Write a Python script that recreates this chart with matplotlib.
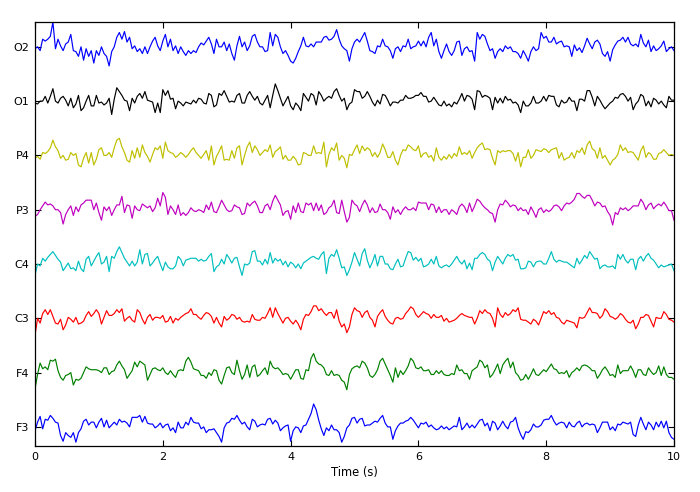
import numpy as np
import matplotlib
matplotlib.use("Agg")
import matplotlib.pyplot as plt

# Channel names, bottom to top, and trace colours
channels = ["F3", "F4", "C3", "C4", "P3", "P4", "O1", "O2"]
colors = ["b", "g", "r", "c", "m", "y", "k", "b"]

duration = 10.0      # seconds
n_samples = 251      # samples per channel (0.04 s apart)

F3 = [-4,5,11,-2,8,7,12,9,5,4,-9,-15,-6,-9,-11,-6,-16,-6,-2,6,8,2,5,5,-1,5,9,0,7,-1,2,5,2,8,5,6,4,0,10,10,10,12,5,11,4,3,3,-1,1,4,-1,2,3,-4,-1,-6,5,-1,-1,5,2,10,5,
      4,4,-2,0,-6,-3,-3,-2,-6,-10,-16,-1,4,5,9,8,12,7,3,5,0,-3,8,6,0,2,3,2,8,9,3,7,4,-4,-1,1,2,-15,-4,0,-1,-6,1,2,8,14,24,18,7,-2,-9,-1,-4,2,-3,-3,-6,-16,-10,-1,2,9,10,
      4,8,9,1,2,2,4,6,5,9,12,4,0,0,-13,-4,1,4,4,6,7,10,7,3,-1,4,3,5,0,2,-1,-3,-2,1,-2,0,-3,-1,1,0,10,-3,0,4,-1,2,-1,3,7,8,1,4,-4,6,4,-3,1,6,1,-2,5,6,
      10,-1,-8,-13,-5,-6,-3,3,0,0,2,7,8,8,12,6,2,4,5,4,-1,5,1,0,4,6,0,3,4,2,3,2,-6,-1,5,5,5,-3,0,-4,3,2,5,4,3,5,-8,-10,2,10,3,-3,5,2,-3,5,0,6,-1,6,-6,-11,-13]
F4 = [-17,-2,10,4,6,3,13,12,14,2,-5,-8,-3,-2,0,-13,-7,-8,-6,0,6,4,3,3,3,2,0,5,5,-2,1,2,8,12,7,3,-6,-2,2,11,6,12,10,8,-8,-2,4,5,3,2,5,0,-2,2,-2,-5,2,3,2,12,16,11,4,
      3,2,-3,-3,-6,0,-3,3,2,-8,-12,-3,5,6,0,-2,13,2,-7,-2,8,-5,6,8,-4,-2,2,5,-2,12,6,4,5,2,-2,-1,-2,-7,-2,3,3,-6,-7,3,2,15,20,12,9,8,5,-2,-3,2,-3,-2,-3,-8,-10,-18,-2,4,6,
      7,5,12,10,5,-3,-5,-2,3,12,15,9,3,-3,-10,5,-5,2,-2,2,7,15,12,5,4,6,2,2,3,-2,-2,2,-1,2,-2,-3,-3,-1,-2,8,2,3,-1,-1,-7,2,4,6,13,11,5,8,-5,-2,3,9,-1,8,12,15,5,11,
      0,-3,-8,-7,-2,-7,-2,4,-2,-3,0,3,1,5,9,4,3,-1,0,-1,2,-5,0,2,5,2,7,8,7,5,2,2,-6,-2,3,6,2,-3,-2,-5,8,-1,2,2,2,7,2,-5,3,3,-2,-3,5,1,-2,0,7,-3,6,-2,-5,-5,-7]
C3 = [-18,0,-5,5,9,4,9,2,-5,-6,-1,-12,-7,1,-1,-4,1,-6,-5,-3,3,7,2,5,9,5,-6,1,8,3,3,5,9,6,10,-3,0,2,-2,-4,9,6,-1,-6,1,4,-2,1,1,0,3,-4,-3,2,-5,0,-2,1,3,5,6,10,4,
      4,1,-1,3,6,5,2,-5,1,-5,-9,2,-2,0,4,3,-1,1,-3,-4,-3,-4,4,-1,-2,-2,1,0,5,11,1,11,5,0,-5,0,1,-3,-6,-2,-6,-12,-1,4,3,7,13,13,8,10,6,3,6,6,0,9,-3,-9,-6,-15,-9,4,11,
      8,7,1,6,8,1,-2,-9,2,6,9,2,-2,-5,-6,0,1,-1,0,5,8,12,10,4,1,4,7,5,4,0,4,1,1,3,-3,0,-4,-3,-2,0,3,5,3,2,1,1,-6,0,8,5,9,6,5,0,-9,11,4,1,6,3,5,9,
      7,11,-1,-2,-2,-4,-6,-1,-3,-7,0,7,5,8,4,6,1,0,-4,-6,-2,-3,-4,-5,-10,1,0,1,6,11,6,6,5,0,3,10,7,2,1,-1,1,5,3,-1,-4,-5,-2,-11,-6,1,1,4,3,-3,-9,1,0,0,7,4,-1,-2,-4]
C4 = [-12,0,-2,6,3,7,10,13,9,5,2,-7,-3,1,-5,-4,-7,3,-5,-8,5,8,-2,3,8,12,0,2,8,-8,8,6,13,18,12,6,2,-2,3,-2,2,15,0,10,11,-2,1,5,8,0,-7,2,-3,-5,-5,-2,8,5,-2,4,5,6,6,
      6,3,5,3,4,8,11,-8,-3,-1,5,0,10,6,1,6,7,-3,-12,0,-1,1,13,14,3,3,-1,5,0,12,1,6,3,5,-1,3,-3,2,0,-4,0,-5,1,3,5,7,8,6,5,10,13,-10,6,10,8,15,6,-4,-3,-12,-6,2,12,
      5,-2,11,16,4,-4,2,10,-2,8,8,0,0,-5,-6,0,5,-3,-2,6,13,12,4,7,3,6,-3,-2,0,5,0,8,-2,-4,-2,-1,-3,0,4,8,3,0,4,-5,1,-6,6,6,10,12,10,5,3,-7,2,8,4,0,6,10,8,10,
      4,5,-5,-5,-4,3,2,-3,2,3,3,0,0,6,13,5,2,4,3,2,2,0,-2,-4,6,0,4,9,6,13,9,5,6,-5,-2,-1,-3,-3,-2,-5,10,5,10,4,1,5,5,-6,5,8,3,8,11,6,4,0,-4,-1,-3,-2,-1,0,-7]
P3 = [-7,-5,0,4,8,5,6,4,0,0,-3,-15,-5,0,4,-6,3,-2,5,7,10,10,10,0,7,-3,-11,3,-1,3,-6,0,5,5,14,-3,5,4,-9,4,0,-1,6,4,2,4,-2,2,12,4,18,13,-5,4,0,-5,5,-6,-3,-6,-3,2,-1,
      -2,0,-1,-3,5,0,8,-2,-3,3,10,5,0,-2,-1,5,3,2,-5,-4,7,4,7,9,4,-3,-3,4,6,0,9,15,10,5,-6,-2,-1,-10,4,-3,7,-2,-3,7,5,7,-1,7,-1,5,-5,-3,2,4,10,-3,-4,10,-2,-13,-8,10,6,
      4,-2,5,10,5,-3,2,-3,-2,6,0,0,-3,-10,3,-3,0,-5,0,3,0,0,2,-1,8,7,7,7,0,6,5,-3,3,-3,0,0,-5,0,-2,-5,3,6,3,-3,7,-2,4,11,9,5,2,0,-3,-4,-13,0,6,5,10,7,3,5,
      4,-1,2,-1,0,-5,3,-2,-8,0,2,-3,0,-2,0,4,5,3,-1,4,7,6,8,11,17,17,14,12,15,15,10,4,8,7,3,4,-2,-6,-16,-3,-5,2,0,2,-1,1,4,4,4,11,7,0,5,7,1,4,6,4,8,4,-1,-1,-11]
P4 = [-3,-1,-4,3,2,4,8,16,9,5,-3,0,-5,-4,3,0,2,-10,-12,-3,3,-8,3,-10,-4,6,8,0,0,3,-2,8,16,18,9,3,-5,-7,5,-3,8,-2,11,3,-1,-7,1,8,6,10,-3,14,5,3,2,-2,0,3,1,-2,1,5,8,
      3,0,-3,1,5,-5,10,-10,-1,4,10,-5,-4,-5,5,-3,8,10,-10,0,9,14,3,10,6,0,3,6,4,11,-2,4,6,9,-4,0,-5,-5,-1,-4,-10,-9,3,2,0,0,10,2,3,2,14,-12,1,8,5,13,-5,0,-3,-13,1,0,6,
      11,2,10,5,8,6,-1,3,-2,3,12,6,-2,-2,4,-5,-10,0,6,5,11,9,6,5,10,-2,2,3,-2,0,-6,8,-2,-5,-1,-4,1,-3,2,-1,9,1,3,1,5,-3,3,8,11,13,6,7,6,-3,-10,5,3,5,4,5,5,2,
      -6,3,-12,-2,-2,6,-3,0,6,5,4,7,6,3,6,7,8,-3,3,-5,-3,-2,3,-3,5,3,8,1,11,15,7,5,-3,8,-3,0,-5,-10,-5,-3,1,11,5,8,3,4,3,-1,-5,5,10,-2,3,1,-4,-4,2,3,6,3,0,1,0]
O1 = [-2,-3,0,0,5,-2,5,13,0,-2,3,5,1,-5,3,-7,-3,6,-10,-7,0,6,-5,-5,6,-2,-1,-4,-2,3,-14,2,14,10,6,1,0,-10,3,-2,5,8,3,10,1,0,-1,-12,-2,-12,12,6,11,2,3,-8,0,-2,-5,-1,-2,-3,1,
      -2,3,2,-2,-3,8,6,-6,-4,8,6,11,5,-1,0,-1,6,8,-2,-2,6,10,5,1,5,-2,-4,1,6,-7,6,18,11,3,-5,0,5,-5,-9,-2,-5,-10,8,4,0,8,6,-4,10,6,0,3,5,3,10,13,6,0,3,-9,-3,-1,12,
      10,10,3,5,10,5,-1,-5,1,-3,7,6,1,-5,-1,-1,-2,1,1,6,3,3,4,6,6,9,5,5,-1,0,4,0,-4,-5,0,-5,-3,-6,-1,-3,2,8,0,6,5,2,-9,11,10,4,6,5,3,-9,4,-2,3,-2,5,1,2,-2,
      -1,-4,-12,0,-5,-5,-2,5,-2,-2,0,5,0,6,5,5,-4,-6,1,-2,-1,4,0,0,-10,2,2,0,11,11,4,-5,5,1,-4,-8,-5,-2,0,4,3,7,8,5,0,4,-9,-3,0,7,5,-5,0,-6,3,1,-3,0,-4,-7,5,1,1]
O2 = [-2,0,-4,8,6,8,11,26,-2,8,1,-4,3,5,13,-4,-5,-10,0,-14,-2,-10,-4,-17,-4,-9,0,-7,-10,-20,-5,0,10,15,8,16,5,10,-2,1,-5,-2,-7,0,-7,0,6,10,1,-4,6,13,0,8,-4,1,-7,0,-5,-9,-4,-7,-4,
      -6,0,4,2,6,10,3,-7,8,0,0,5,-4,3,-7,-14,1,11,0,5,-4,1,11,13,5,0,0,-5,-4,15,1,13,10,0,-7,-4,-9,-15,-17,-12,-5,1,10,1,0,3,0,5,5,5,10,11,7,8,11,18,8,1,-2,-4,-15,-2,5,
      8,5,10,15,6,-4,-5,-7,1,0,8,1,0,-4,-12,-2,0,-5,1,0,8,-2,0,1,6,1,6,0,10,15,1,8,-5,-12,-4,3,-5,-9,-4,5,6,-9,-2,0,-5,-4,-15,15,8,13,11,3,-4,-2,-12,-5,-2,-5,1,-2,0,-5,
      -5,-7,-12,-4,-9,-15,-5,0,-4,-2,15,9,11,5,5,10,3,5,6,0,1,0,-10,2,-4,-1,-6,1,9,3,-2,5,7,3,-7,-10,-5,-15,-3,2,6,7,10,5,10,3,1,3,0,13,4,0,7,-5,1,-4,-2,1,6,-5,-2,0,-4]

series = [F3, F4, C3, C4, P3, P4, O1, O2]
x_ticks = [0, 2, 4, 6, 8, 10]

plt.rcParams['font.family'] = ['DejaVu Sans']
fig = plt.figure(figsize=(7.0, 4.92), dpi=100)
fig.patch.set_facecolor('white')
ax = fig.add_axes([0.05, 0.0935, 0.9129, 0.8618])

t = np.linspace(0, duration, n_samples)
data = np.array(series, dtype=float)
dmin, dmax = data.min(), data.max()
dr = (dmax - dmin) * 1.236
ticklocs = []
for i, (vals, col) in enumerate(zip(series, colors)):
    off = i * dr
    ax.plot(t, np.asarray(vals, dtype=float) + off, color=col, lw=0.85)
    ticklocs.append(off)

ax.set_xlim(0, duration)
ax.set_ylim(dmin, (len(series) - 1) * dr + dmax)
ax.set_xticks(x_ticks)
ax.set_yticks(ticklocs)
ax.set_yticklabels(channels)
ax.set_xlabel("Time (s)", fontsize=8.3, labelpad=3)
ax.tick_params(direction='in', length=4, width=0.8, labelsize=8,
               top=True, right=True, pad=4)
for s in ax.spines.values():
    s.set_linewidth(0.9)

fig.savefig("out.png", dpi=100, facecolor='white')
